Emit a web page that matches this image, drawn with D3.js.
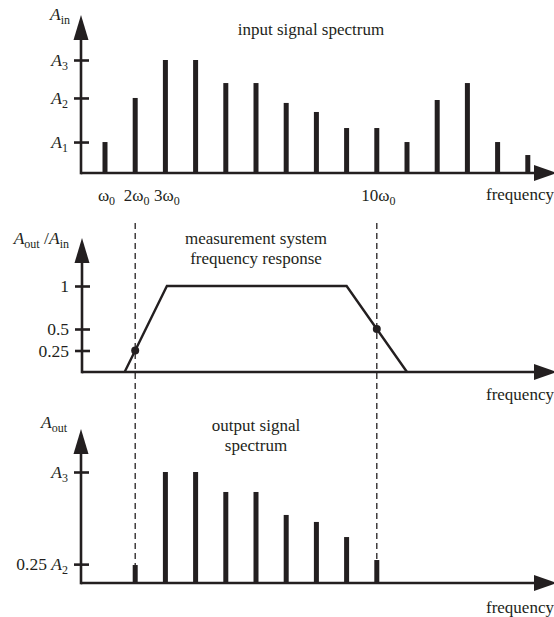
<!DOCTYPE html>
<html><head><meta charset="utf-8">
<script src="https://cdn.jsdelivr.net/npm/d3@7"></script>
<style>
body{margin:0;background:#fff}
svg{display:block}
text{font-family:"Liberation Serif","Times New Roman",serif;fill:#231f20}
</style>
</head><body>
<svg id="c" width="554" height="617"></svg>
<script>
// ---------- data ----------
const harmonics = [1,2,3,4,5,6,7,8,9,10,11,12,13,14,15];
const inputAmplitude = [0.274,0.664,1,1,0.796,0.796,0.62,0.54,0.398,0.398,0.274,0.646,0.796,0.274,0.159];
const inputTickValues = [0.274,0.664,1];
const inputTickLabels = [["","A","1"],["","A","2"],["","A","3"]];

const freqTickValues = [1,2,3,10];
const freqTickLabels = ["","2","3","10"];

const responseNodes = [[1.65,0],[3.05,1],[9,1],[11,0]];
const responseMarks = [[2,0.25],[10,0.5]];
const responseTickValues = [0.25,0.5,1];
const responseTickLabels = ["0.25","0.5","1"];

const outputHarmonics = [2,3,4,5,6,7,8,9,10];
const outputAmplitude = [0.162,1,1,0.82,0.82,0.613,0.55,0.414,0.207];
const outputTickValues = [0.17,1];
const outputTickLabels = [["0.25 ","A","2"],["","A","3"]];

const cutoffHarmonics = [2,10];

// ---------- layout ----------
const ink = "#231f20";
const svg = d3.select("#c");
const axisX = 81;
const x = d3.scaleLinear().domain([0,16]).range([74.8, 558]);
const xEnd = 557;

const yIn  = d3.scaleLinear().domain([0,1]).range([173,60]);
const yRes = d3.scaleLinear().domain([0,1]).range([372,286]);
const yOut = d3.scaleLinear().domain([0,1]).range([583,472]);

function arrowAxes(g, y, tipY, axX) {
  const base = y(0);
  g.append("line").attr("x1",axX).attr("x2",xEnd-18).attr("y1",base).attr("y2",base)
    .attr("stroke",ink).attr("stroke-width",2.6);
  g.append("path").attr("d",`M${xEnd},${base} L${xEnd-23},${base-8} L${xEnd-23},${base+8} Z`).attr("fill",ink);
  g.append("line").attr("x1",axX).attr("x2",axX).attr("y1",base+1.3).attr("y2",tipY+18)
    .attr("stroke",ink).attr("stroke-width",2.6);
  g.append("path").attr("d",`M${axX},${tipY} L${axX-7.5},${tipY+25} L${axX+7.5},${tipY+25} Z`).attr("fill",ink);
}

function yTicks(g, y, vals, labels, axX, fmt) {
  const ax = d3.axisLeft(y).tickValues(vals).tickSize(7).tickPadding(6).tickFormat(()=>"");
  const ag = g.append("g").attr("transform",`translate(${axX},0)`).call(ax);
  ag.select(".domain").remove();
  ag.selectAll(".tick line").attr("x1",8).attr("stroke",ink).attr("stroke-width",2.6);
  ag.selectAll(".tick text").each(function(d,i){
    const t = d3.select(this).attr("font-size",17.5).attr("dy","0.32em").attr("fill",ink);
    fmt(t, labels[i]);
  });
}

function subLabel(t, parts) {
  if (parts[0]) t.append("tspan").text(parts[0]);
  t.append("tspan").attr("font-style","italic").text(parts[1]);
  t.append("tspan").attr("font-size",12).attr("dy",4).text(parts[2]);
}

// ---------- top panel: input spectrum ----------
const g1 = svg.append("g");
arrowAxes(g1, yIn, 15, axisX);
yTicks(g1, yIn, inputTickValues, inputTickLabels, axisX, subLabel);
g1.selectAll("rect.bar").data(harmonics).join("rect")
  .attr("x", d => x(d)-2.5).attr("width",5)
  .attr("y", (d,i) => yIn(inputAmplitude[i]))
  .attr("height", (d,i) => yIn(0)-yIn(inputAmplitude[i]))
  .attr("fill",ink);
const l1 = g1.append("text").attr("x",70).attr("y",20).attr("text-anchor","end").attr("font-size",17.5);
subLabel(l1, ["","A","in"]);
g1.append("text").attr("x",311).attr("y",35).attr("text-anchor","middle").attr("font-size",17).text("input signal spectrum");
g1.selectAll("text.ft").data(freqTickValues).join("text").attr("class","ft")
  .attr("x", d => x(d)+1.5).attr("y",201).attr("text-anchor","middle").attr("font-size",17)
  .each(function(d,i){
    const t = d3.select(this);
    if (freqTickLabels[i]) t.append("tspan").text(freqTickLabels[i]);
    t.append("tspan").text("ω");
    t.append("tspan").attr("font-size",12).attr("dy",4).text("0");
  });
g1.append("text").attr("x",486).attr("y",200).attr("font-size",17).text("frequency");

// ---------- middle panel: response ----------
const g2 = svg.append("g");
arrowAxes(g2, yRes, 238, axisX+1);
yTicks(g2, yRes, responseTickValues, responseTickLabels, axisX+1, (t,l)=>t.text(l));
g2.append("path").datum(responseNodes)
  .attr("d", d3.line().x(d=>x(d[0])).y(d=>yRes(d[1])))
  .attr("fill","none").attr("stroke",ink).attr("stroke-width",2.4).attr("stroke-linejoin","miter");
g2.selectAll("circle").data(responseMarks).join("circle")
  .attr("cx",d=>x(d[0])).attr("cy",d=>yRes(d[1])).attr("r",4).attr("fill",ink);
const l2 = g2.append("text").attr("x",69).attr("y",244).attr("text-anchor","end").attr("font-size",17.5);
l2.append("tspan").attr("font-style","italic").text("A");
l2.append("tspan").attr("font-size",12).attr("dy",4).text("out");
l2.append("tspan").attr("dy",-4).text(" /");
l2.append("tspan").attr("font-style","italic").text("A");
l2.append("tspan").attr("font-size",12).attr("dy",4).text("in");
g2.append("text").attr("x",256).attr("y",244).attr("text-anchor","middle").attr("font-size",17).text("measurement system");
g2.append("text").attr("x",256).attr("y",264).attr("text-anchor","middle").attr("font-size",17).text("frequency response");
g2.append("text").attr("x",486).attr("y",400).attr("font-size",17).text("frequency");

// ---------- bottom panel: output spectrum ----------
const g3 = svg.append("g");
arrowAxes(g3, yOut, 429, axisX);
yTicks(g3, yOut, outputTickValues, outputTickLabels, axisX, subLabel);
g3.selectAll("rect.bar").data(outputHarmonics).join("rect")
  .attr("x", d => x(d)-2.5).attr("width",5)
  .attr("y", (d,i) => yOut(outputAmplitude[i]))
  .attr("height", (d,i) => yOut(0)-yOut(outputAmplitude[i]))
  .attr("fill",ink);
const l3 = g3.append("text").attr("x",67).attr("y",428).attr("text-anchor","end").attr("font-size",17.5);
subLabel(l3, ["","A","out"]);
g3.append("text").attr("x",256).attr("y",431).attr("text-anchor","middle").attr("font-size",17).text("output signal");
g3.append("text").attr("x",256).attr("y",451).attr("text-anchor","middle").attr("font-size",17).text("spectrum");
g3.append("text").attr("x",486).attr("y",613).attr("font-size",17).text("frequency");

// ---------- cutoff dashed lines ----------
svg.selectAll("line.cut").data(cutoffHarmonics).join("line").attr("class","cut")
  .attr("x1",d=>x(d)).attr("x2",d=>x(d)).attr("y1",223)
  .attr("y2",d=>yOut(outputAmplitude[outputHarmonics.indexOf(d)]))
  .attr("stroke",ink).attr("stroke-width",1.3).attr("stroke-dasharray","6,4");
</script>
</body></html>
